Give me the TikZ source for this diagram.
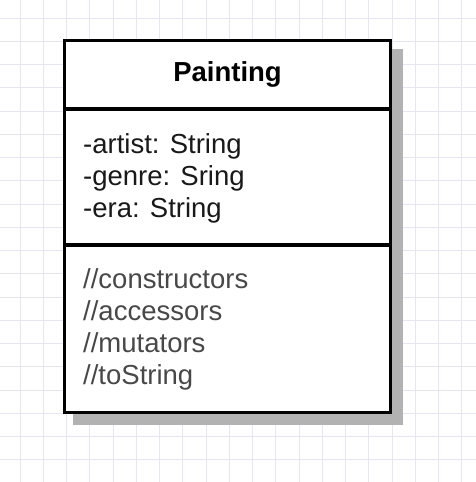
\documentclass[tikz,border=0pt]{standalone}
\usepackage{fontspec}
\setmainfont{Liberation Sans}
\usepackage{tikz}
\usetikzlibrary{backgrounds, positioning, calc}
\definecolor{gridblue}{RGB}{230,230,243}
\definecolor{shadowgray}{RGB}{178,178,178}
\definecolor{opsgray}{RGB}{72,72,72}
\tikzset{
  member_font/.style = {font=\fontsize{27.5}{32}\selectfont},
  title_font/.style = {font=\fontsize{27.5}{32}\selectfont\bfseries},
  grid_line/.style = {draw=gridblue, line width=1},
  compartment/.style = {draw, line width=3.5, fill=white, outer sep=0,
    minimum width=326},
  shadow_box/.style = {draw=shadowgray, fill=shadowgray, line width=3.5},
  members/.style = {member_font, align=left, inner sep=0, anchor=north west}
}
\begin{document}
\begin{tikzpicture}[x=1pt, y=-1pt, node distance=0]
        \useasboundingbox (0,0) rectangle (476,482);

        % Compartments
        \node[compartment, title_font, minimum height=68.5] at (227.5,74.75) (title) {Painting};
        \node[compartment, minimum height=136, below=of title] (attrs) {};
        \node[compartment, minimum height=167.5, below=of attrs] (ops) {};

        % Members
        \node[members, text=black!90] at ([shift={(18.5,24)}]attrs.north west) (attr_list) {
            -artist: String\\
            -genre: Sring\\
            -era: String};
        \node[members, text=opsgray] at ([shift={(18.5,23.5)}]ops.north west) (op_list) {
            //constructors\\
            //accessors\\
            //mutators\\
            //toString};

        % Grid and shadow behind
        \begin{scope}[on background layer]
            \fill[white] (0,0) rectangle (476,482);
            \foreach \k in {0,...,19}{
                \draw[grid_line] (20+23.25*\k,0)--(20+23.25*\k,482);
                \draw[grid_line] (0,18+23.25*\k)--(476,18+23.25*\k);
            }
            \path[shadow_box] ([shift={(10.5,10.5)}]title.north west)
                rectangle ([shift={(10.5,10.5)}]ops.south east);
        \end{scope}
\end{tikzpicture}
\end{document}
